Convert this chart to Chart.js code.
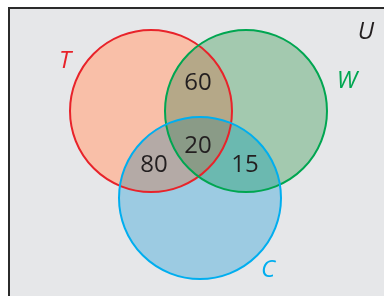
<!DOCTYPE html>
<html>
<head>
<meta charset="utf-8">
<script src="https://cdn.jsdelivr.net/npm/chart.js@4.4.1/dist/chart.umd.min.js"></script>
<style>
  html, body { margin: 0; padding: 0; background: #fff; }
  canvas { display: block; }
</style>
</head>
<body>
<canvas id="venn" width="384" height="296"></canvas>
<script>
// sets and their circles (x/y in the chart's own units, r = bubble radius)
const setNames = ["T", "W", "C"];
const centerX = [151, 246, 200];
const centerY = [111, 111, 198];
const radius = [81, 81, 81];

// counts written inside the overlaps
const regionValues = ["60", "20", "80", "15"];
const regionX = [198, 198, 154, 245];
const regionY = [83, 146, 165, 165];

// set name labels
const nameLabels = ["T", "W", "C", "U"];
const nameX = [65, 347, 268, 366];
const nameY = [61, 81, 270, 32];

const fillColors = ["#f9bfa8", "#a3c9af", "#9ccbe2"];
const strokeColors = ["#e8232a", "#00a651", "#00aeef"];
const nameColors = ["#e8232a", "#00a651", "#00aeef", "#231f20"];
const overlapColors = {
  TW: "#b5a888",
  TC: "#b4aaa6",
  WC: "#6bb9b0",
  TWC: "#8a9b87"
};

const points = setNames.map((s, i) => ({ x: centerX[i], y: centerY[i], r: radius[i] }));

function circlePath(ctx, el) {
  ctx.beginPath();
  ctx.arc(el.x, el.y, el.options.radius, 0, Math.PI * 2);
}

const vennPlugin = {
  id: "venn",
  beforeDraw(chart) {
    const ctx = chart.ctx;
    ctx.save();
    ctx.fillStyle = "#ffffff";
    ctx.fillRect(0, 0, chart.width, chart.height);
    ctx.fillStyle = "#e6e7e9";
    ctx.fillRect(9, 8, chart.width, chart.height);
    ctx.strokeStyle = "#2b2b2b";
    ctx.lineWidth = 2;
    ctx.beginPath();
    ctx.moveTo(9, chart.height + 2);
    ctx.lineTo(9, 8);
    ctx.lineTo(chart.width + 2, 8);
    ctx.stroke();
    ctx.restore();
  },
  afterDatasetDraw(chart, args) {
    if (args.index !== 0) return;
    const ctx = chart.ctx;
    const els = chart.getDatasetMeta(0).data;
    const clipFill = (idx, color) => {
      ctx.save();
      for (let k = 0; k < idx.length - 1; k++) {
        circlePath(ctx, els[idx[k]]);
        ctx.clip();
      }
      circlePath(ctx, els[idx[idx.length - 1]]);
      ctx.fillStyle = color;
      ctx.fill();
      ctx.restore();
    };
    clipFill([0, 1], overlapColors.TW);
    clipFill([0, 2], overlapColors.TC);
    clipFill([1, 2], overlapColors.WC);
    clipFill([0, 1, 2], overlapColors.TWC);
  },
  afterDatasetsDraw(chart) {
    const ctx = chart.ctx;
    const xs = chart.scales.x, ys = chart.scales.y;
    ctx.save();
    ctx.textAlign = "center";
    ctx.textBaseline = "middle";
    ctx.fillStyle = "#231f20";
    ctx.font = '24px "Open Sans"';
    regionValues.forEach((v, i) => {
      ctx.fillText(v, xs.getPixelForValue(regionX[i]), ys.getPixelForValue(regionY[i]));
    });
    ctx.font = 'italic 24px "Open Sans"';
    nameLabels.forEach((n, i) => {
      ctx.fillStyle = nameColors[i];
      ctx.fillText(n, xs.getPixelForValue(nameX[i]), ys.getPixelForValue(nameY[i]));
    });
    ctx.restore();
  }
};

new Chart(document.getElementById("venn"), {
  type: "bubble",
  data: {
    datasets: [
      {
        label: "fills",
        data: points,
        backgroundColor: fillColors,
        borderWidth: 0,
        clip: false,
        order: 2
      },
      {
        label: "outlines",
        data: points,
        backgroundColor: "rgba(0,0,0,0)",
        borderColor: strokeColors,
        borderWidth: 2,
        clip: false,
        order: 1
      }
    ]
  },
  options: {
    responsive: false,
    animation: false,
    events: [],
    layout: { padding: 0, autoPadding: false },
    plugins: { legend: { display: false }, tooltip: { enabled: false } },
    scales: {
      x: { type: "linear", min: 0, max: 384, display: false },
      y: { type: "linear", min: 0, max: 296, reverse: true, display: false }
    }
  },
  plugins: [vennPlugin]
});
</script>
</body>
</html>
